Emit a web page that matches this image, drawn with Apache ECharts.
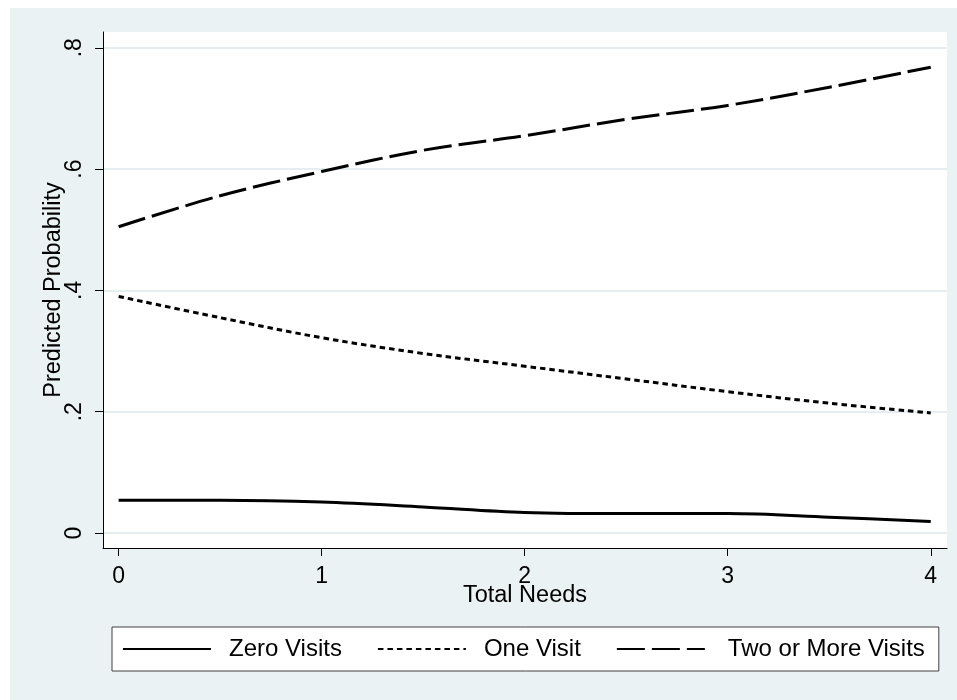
<!DOCTYPE html>
<html>
<head>
<meta charset="utf-8">
<script src="https://cdn.jsdelivr.net/npm/echarts@6/dist/echarts.min.js"></script>
<style>
  html, body { margin: 0; padding: 0; background: #ffffff; }
  #bg { position: absolute; left: 10px; top: 8px; width: 947px; height: 692px; background: #eaf2f3; }
  #chart { position: absolute; left: 0; top: 0; width: 957px; height: 700px; }
</style>
</head>
<body>
<div id="bg"></div>
<div id="chart"></div>
<script>
// ---- data ----
const xValues = [0, 0.5, 1, 1.5, 2, 2.5, 3, 3.5, 4];
const zeroVisits = [0.054, 0.054, 0.051, 0.043, 0.034, 0.032, 0.032, 0.026, 0.019];
const oneVisit = [0.390, 0.355, 0.322, 0.296, 0.275, 0.254, 0.233, 0.214, 0.198];
const twoOrMore = [0.505, 0.556, 0.596, 0.631, 0.655, 0.682, 0.705, 0.735, 0.768];
const seriesNames = ['Zero Visits', 'One Visit', 'Two or More Visits'];
const xTicks = [0, 1, 2, 3, 4];
const xTickLabels = ['0', '1', '2', '3', '4'];
const yTicks = [0, 0.2, 0.4, 0.6, 0.8];
const yTickLabels = ['0', '.2', '.4', '.6', '.8'];
const xTitle = 'Total Needs';
const yTitle = 'Predicted Probability';

const FONT = "'Liberation Sans', Arial, Helvetica, sans-serif";

function pairs(ys) { return xValues.map((x, i) => [x, ys[i]]); }
function labelFor(ticks, labels) {
  return function (v) {
    for (let i = 0; i < ticks.length; i++) {
      if (Math.abs(ticks[i] - v) < 1e-9) return labels[i];
    }
    return '';
  };
}

const chart = echarts.init(document.getElementById('chart'), null, { renderer: 'canvas' });

const lineStyles = [
  { color: '#000', width: 3, type: 'solid' },
  { color: '#000', width: 3, type: [5.5, 4] },
  { color: '#000', width: 3, type: [28, 7] }
];
const dataSets = [zeroVisits, oneVisit, twoOrMore];
const legendTextPad = [13, 13, 18];

chart.setOption({
  animation: false,
  textStyle: { fontFamily: FONT, color: '#000' },
  grid: {
    left: 103, top: 32, right: 10, bottom: 152,
    show: true, backgroundColor: '#ffffff', borderWidth: 0
  },
  xAxis: {
    type: 'value',
    min: -0.077, max: 4.08,
    name: xTitle,
    nameLocation: 'middle',
    nameGap: 36,
    nameMoveOverlap: false,
    nameTextStyle: { fontSize: 23.5, color: '#000', fontFamily: FONT },
    axisLine: { show: true, onZero: false, lineStyle: { color: '#000', width: 1 } },
    axisTick: { show: true, length: 8, customValues: xTicks, lineStyle: { color: '#000', width: 1 } },
    axisLabel: {
      customValues: xTicks, margin: 17, fontSize: 23, color: '#000', fontFamily: FONT,
      formatter: labelFor(xTicks, xTickLabels)
    },
    splitLine: { show: false }
  },
  yAxis: {
    type: 'value',
    min: -0.0247, max: 0.826,
    name: yTitle,
    nameLocation: 'middle',
    nameGap: 37,
    nameRotate: 90,
    nameMoveOverlap: false,
    nameTextStyle: { fontSize: 23.5, color: '#000', fontFamily: FONT },
    axisLine: { show: true, onZero: false, lineStyle: { color: '#000', width: 1 } },
    axisTick: { show: true, length: 8, customValues: yTicks, lineStyle: { color: '#000', width: 1 } },
    axisLabel: {
      customValues: yTicks, margin: 17, rotate: 90, fontSize: 23, color: '#000', fontFamily: FONT,
      formatter: labelFor(yTicks, yTickLabels)
    },
    splitLine: { show: true, lineStyle: { color: '#e6eef0', width: 2 } }
  },
  legend: {
    left: 112, top: 627,
    orient: 'horizontal',
    data: seriesNames.map((n, i) => ({
      name: n,
      textStyle: { fontSize: 24, color: '#000', fontFamily: FONT, padding: [0, 0, 0, legendTextPad[i]] }
    })),
    selectedMode: false,
    backgroundColor: '#ffffff',
    borderColor: '#404040',
    borderWidth: 1,
    borderRadius: 0,
    padding: [10, 14, 10, 10],
    itemWidth: 88,
    itemHeight: 14,
    itemGap: 35,
    itemStyle: { color: 'rgba(0,0,0,0)', borderWidth: 0, opacity: 0 },
    textStyle: { fontSize: 24, color: '#000', fontFamily: FONT }
  },
  series: dataSets.map((d, i) => ({
    name: seriesNames[i],
    type: 'line',
    data: pairs(d),
    smooth: 0.35,
    symbol: 'none',
    showSymbol: false,
    lineStyle: lineStyles[i],
    itemStyle: { color: '#000' },
    emphasis: { disabled: true }
  }))
});
</script>
</body>
</html>
